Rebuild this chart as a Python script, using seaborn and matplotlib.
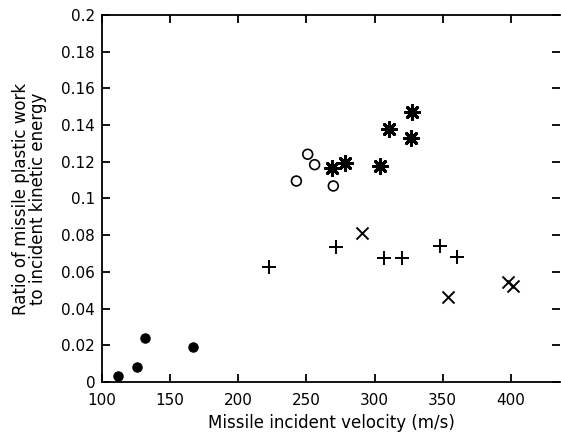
import matplotlib
matplotlib.use("Agg")
import matplotlib.pyplot as plt
import seaborn as sns
import pandas as pd

# data
dot_v = [111.7, 125.8, 131.2, 166.8]
dot_r = [0.0034, 0.0083, 0.0238, 0.0192]

circ_v = [250.9, 256.0, 242.6, 269.7]
circ_r = [0.1241, 0.1184, 0.1095, 0.1068]

ast_v = [327.7, 310.7, 327.0, 268.5, 278.3, 304.3]
ast_r = [0.147, 0.1377, 0.1328, 0.1168, 0.1195, 0.1177]

plus_v = [222.4, 271.7, 307.0, 320.0, 348.0, 360.7]
plus_r = [0.0628, 0.0737, 0.0677, 0.0677, 0.0741, 0.0679]

cross_v = [290.7, 353.8, 398.0, 401.6]
cross_r = [0.0814, 0.0465, 0.0545, 0.0523]

x_ticks = [100, 150, 200, 250, 300, 350, 400]
y_ticks = [0, 0.02, 0.04, 0.06, 0.08, 0.1, 0.12, 0.14, 0.16, 0.18, 0.2]
y_labels = ["0", "0.02", "0.04", "0.06", "0.08", "0.1", "0.12", "0.14", "0.16", "0.18", "0.2"]

sns.set_theme(style="ticks")
plt.rcParams['font.family'] = ['DejaVu Sans']

fig = plt.figure(figsize=(5.61, 4.41), dpi=100)
ax = fig.add_axes([0.182, 0.134, 0.816, 0.832])

sns.scatterplot(x=dot_v, y=dot_r, ax=ax, marker='o', color='black', s=45, edgecolor='black', linewidth=0.8)
sns.scatterplot(x=circ_v, y=circ_r, ax=ax, marker='o', facecolor='none', edgecolor='black', s=50, linewidth=1.2)
sns.scatterplot(x=ast_v, y=ast_r, ax=ax, marker=(8, 2, 0), color='black', s=100, linewidth=2.2)
sns.scatterplot(x=plus_v, y=plus_r, ax=ax, marker='+', color='black', s=90, linewidth=1.4)
sns.scatterplot(x=cross_v, y=cross_r, ax=ax, marker='x', color='black', s=75, linewidth=1.4)

ax.set_xlim(100, 436)
ax.set_ylim(0, 0.2)
ax.set_xticks(x_ticks)
ax.set_yticks(y_ticks)
ax.set_yticklabels(y_labels)

for s in ['left', 'bottom', 'top']:
    ax.spines[s].set_color('black')
    ax.spines[s].set_linewidth(1.3)
ax.spines['right'].set_visible(False)

ax.tick_params(axis='both', direction='in', length=6, width=1.3, colors='black', labelsize=11)
ax.tick_params(axis='x', top=True, pad=8)
ax.tick_params(axis='y', right=True, pad=5)
ax.tick_params(axis='y', which='major', right=True)

ax.set_xlabel("Missile incident velocity (m/s)", fontsize=12, color='black', labelpad=4)
ax.set_ylabel("Ratio of missile plastic work\nto incident kinetic energy", fontsize=12, color='black', labelpad=10, linespacing=0.95)

fig.savefig("out.png", dpi=100)
